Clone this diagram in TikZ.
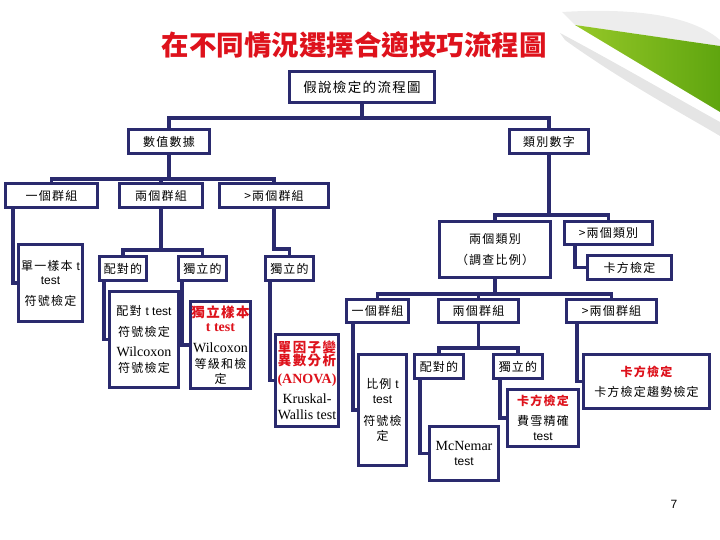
\documentclass[tikz,border=0pt]{standalone}
\usepackage{fontspec}
\setmainfont{Liberation Serif}
\newfontfamily\cjk[LetterSpace=10]{Noto Sans CJK TC}
\newfontfamily\cjkt{Noto Sans CJK TC}
\newfontfamily\ari{Liberation Sans}
\definecolor{navy}{RGB}{42,42,110}
\definecolor{tred}{RGB}{222,18,28}
\definecolor{lgreen}{RGB}{150,200,40}
\definecolor{dgreen}{RGB}{95,165,15}
\newcommand\redb[1]{{\color{tred}\bfseries #1}}
\newcommand\redbig[1]{{\color{tred}\bfseries\fontsize{13.5}{14}\selectfont #1}}
\newcommand\sa[1]{{\ari #1}}
\newcommand\se[1]{{\rmfamily\fontsize{14}{14}\selectfont #1}}
\tikzset{
  bx/.style={draw=navy, line width=3.5pt, fill=white, inner sep=1pt, align=center,
    font=\cjk\fontsize{12}{14}\selectfont},
  ln/.style={draw=navy, line width=3.5pt}
}
\begin{document}
\begin{tikzpicture}[x=1pt,y=-1pt]
\useasboundingbox (0,0) rectangle (720,540);
% page curl decoration
\fill[black!10] (560,33) .. controls (620,65) and (680,100) .. (720,122) -- (720,136) .. controls (690,118) and (620,80) .. (565,40) -- cycle;
\fill[black!7] (562,12) .. controls (630,8) and (690,14) .. (720,40) -- (720,46) -- (575,25) -- cycle;
\shade[left color=lgreen, right color=dgreen] (575,25) -- (720,46) -- (720,112) -- cycle;
% title
\node (title) at (354,45) {\cjkt\bfseries\fontsize{27.5}{30}\selectfont\color{tred}在不同情況選擇合適技巧流程圖};
% boxes
\node[bx, minimum width=145, minimum height=31, font=\cjk\fontsize{13.5}{15}\selectfont] (A) at (362,87) {假說檢定的流程圖};
\node[bx, minimum width=81, minimum height=24] (B) at (169,141.5) {數值數據};
\node[bx, minimum width=79, minimum height=24] (C) at (549,141.5) {類別數字};
\node[bx, minimum width=92, minimum height=24] (D1) at (51.5,195.5) {一個群組};
\node[bx, minimum width=83, minimum height=24] (D2) at (161,195.5) {兩個群組};
\node[bx, minimum width=109, minimum height=24] (D3) at (274,195.5) {>兩個群組};
\node[bx, minimum width=64, minimum height=77] (E) at (50.5,283) {單一樣本 \sa{t}\\\sa{test}\\[7pt]符號檢定};
\node[bx, minimum width=47, minimum height=24] (F1) at (123,268.5) {配對的};
\node[bx, minimum width=48, minimum height=24] (F2) at (202.5,268.5) {獨立的};
\node[bx, minimum width=48, minimum height=24] (F3) at (289.5,268.5) {獨立的};
\node[bx, minimum width=69, minimum height=96] (G1) at (144,339.5) {配對 \sa{t test}\\[7pt]符號檢定\\[6pt]\se{Wilcoxon}\\[2pt]符號檢定};
\node[bx, minimum width=60, minimum height=87] (G2) at (220.5,345) {\redbig{獨立樣本}\\\se{\redb{t test}}\\[7pt]\se{Wilcoxon}\\[2pt]等級和檢\\[1pt]定};
\node[bx, minimum width=63, minimum height=92] (G3) at (307,380.5) {\redbig{單因子變}\\[-1pt]\redbig{異數分析}\\[4pt]\se{\redb{(ANOVA)}}\\[6pt]\se{Kruskal-}\\[2pt]\se{Wallis test}};
\node[bx, minimum width=111, minimum height=56] (H1) at (495,249.5) {兩個類別\\[7pt]（調查比例）};
\node[bx, minimum width=88, minimum height=23] (H2) at (608.5,233) {>兩個類別};
\node[bx, minimum width=84, minimum height=24] (H3) at (629.5,267.5) {卡方檢定};
\node[bx, minimum width=62, minimum height=23] (I1) at (377.5,311) {一個群組};
\node[bx, minimum width=80, minimum height=23] (I2) at (478.5,311) {兩個群組};
\node[bx, minimum width=90, minimum height=23] (I3) at (611.5,311) {>兩個群組};
\node[bx, minimum width=48, minimum height=111] (J1) at (382.5,410) {比例 \sa{t}\\[1pt]\sa{test}\\[8pt]符號檢\\[1pt]定};
\node[bx, minimum width=49, minimum height=24] (K1) at (439,366.5) {配對的};
\node[bx, minimum width=49, minimum height=24] (K2) at (518,366.5) {獨立的};
\node[bx, minimum width=69, minimum height=54] (L1) at (464,453.5) {\se{McNemar}\\[1pt]\sa{test}};
\node[bx, minimum width=71, minimum height=57] (L2) at (543,418) {\redb{卡方檢定}\\[6pt]費雪精確\\[1pt]\sa{test}};
\node[bx, minimum width=126, minimum height=54] (M) at (646.5,381.5) {\redb{卡方檢定}\\[6pt]卡方檢定趨勢檢定};
% connectors
\draw[ln] (A.south) -- (362,118);
\draw[ln] (B.north) |- (549,118) -- (C.north);
\draw[ln] (B.south) -- (169,179);
\draw[ln] (D1.north) |- (274,179) -- (D3.north);
\draw[ln] (D2.north) -- (161,179);
\draw[ln] ([xshift=9]D1.south west) |- (E.west);
\draw[ln] (D2.south) -- (161,250);
\draw[ln] (F1.north) |- (202.5,250) -- (F2.north);
\draw[ln] (D3.south) |- (289.5,249) -- (F3.north);
\draw[ln] ([xshift=6]F1.south west) |- (G1.west);
\draw[ln] ([xshift=5]F2.south west) |- (G2.west);
\draw[ln] ([xshift=6]F3.south west) |- (G3.west);
\draw[ln] (C.south) -- (549,215);
\draw[ln] (H1.north) |- (608.5,215) -- (H2.north);
\draw[ln] ([xshift=12]H2.south west) |- (H3.west);
\draw[ln] (H1.south) -- (495,294);
\draw[ln] (I1.north) |- (611.5,294) -- (I3.north);
\draw[ln] (I2.north) -- (478.5,294);
\draw[ln] ([xshift=8]I1.south west) |- (J1.west);
\draw[ln] (I2.south) -- (478.5,348);
\draw[ln] (K1.north) |- (518,348) -- (K2.north);
\draw[ln] ([xshift=7]K1.south west) |- (L1.west);
\draw[ln] ([xshift=8]K2.south west) |- (L2.west);
\draw[ln] ([xshift=12]I3.south west) |- (M.west);
% page number
\node[font=\ari\fontsize{12}{14}\selectfont] (pg) at (674,504) {7};
\end{tikzpicture}
\end{document}
